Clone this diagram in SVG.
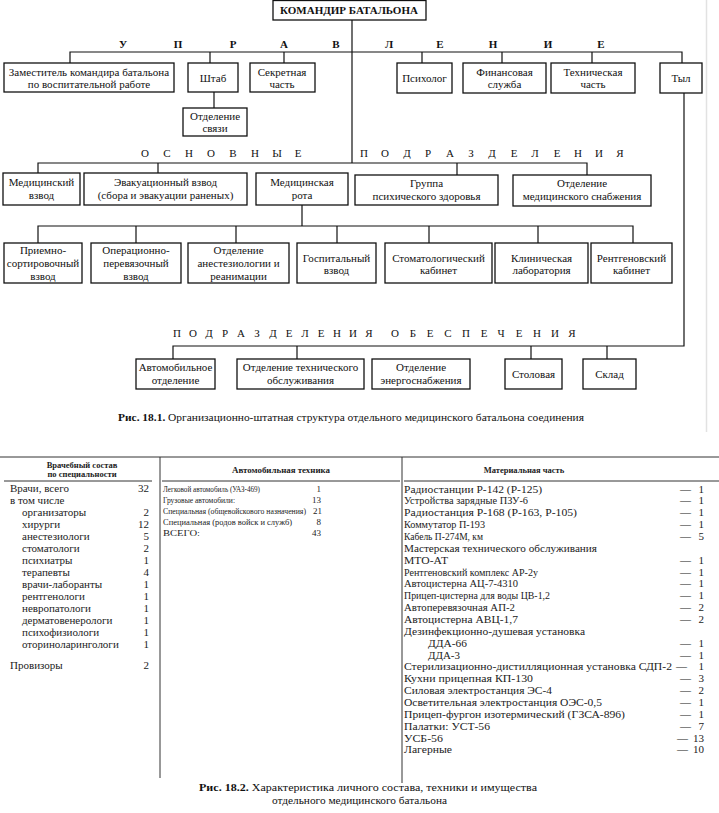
<svg xmlns="http://www.w3.org/2000/svg" width="719" height="813" viewBox="0 0 719 813">
<style>
.bg{fill:#fff}
.box{fill:#fff;stroke:#111;stroke-width:1.3}
.ln{stroke:#111;stroke-width:1.2;fill:none}
.tl{stroke:#333;stroke-width:1;fill:none}
.t{font-family:"Liberation Serif","Times New Roman",serif;font-size:11px;fill:#111;text-anchor:middle}
.b{font-weight:bold}
.sp{font-family:"Liberation Serif","Times New Roman",serif;font-size:11px;fill:#111;text-anchor:middle}
.cap{font-family:"Liberation Serif","Times New Roman",serif;font-size:10.5px;fill:#111}
.c1{font-family:"Liberation Serif","Times New Roman",serif;font-size:11px;fill:#222}
.c2{font-family:"Liberation Serif","Times New Roman",serif;font-size:9px;fill:#222}
.c3{font-family:"Liberation Serif","Times New Roman",serif;font-size:11px;fill:#222}
.hd{font-family:"Liberation Serif","Times New Roman",serif;font-size:8.5px;font-weight:bold;fill:#222;text-anchor:middle}
.r{text-anchor:end}
</style>
<rect class="bg" x="0" y="0" width="719" height="813"/>
<line x1="706.5" y1="0" x2="706.5" y2="432" stroke="#e2e2e2" stroke-width="1.5"/>

<!-- section labels -->
<g id="labels">
<text class="sp b" x="123 178 233 284 336 389 440 493 548 601" y="48">УПРАВЛЕНИЕ</text>
<text class="sp" x="145 167 189 211 233 255 277 298" y="157">ОСНОВНЫЕ</text>
<text class="sp" x="364 385 407 428 450 471 492 514 535 557 578 599 620" y="157">ПОДРАЗДЕЛЕНИЯ</text>
<text class="sp" x="177 193 209 225 241 257 273 289 305 321 337 353 369" y="337">ПОДРАЗДЕЛЕНИЯ</text>
<text class="sp" x="395 413 430 448 466 484 501 519 537 555 572" y="337">ОБЕСПЕЧЕНИЯ</text>
</g>

<!-- connectors -->
<g id="connectors">
<path class="ln" d="M352,20 V163"/>
<path class="ln" d="M70,63 V52 H682 V63"/>
<path class="ln" d="M210,52 V63 M284,52 V63 M422,52 V63 M502,52 V63 M592,52 V63"/>
<path class="ln" d="M214,92 V108"/>
<path class="ln" d="M38,173 V163 H587 V175 M158,163 V173 M457,163 V175"/>
<path class="ln" d="M302,205 V226 M38,243 V226 H633 V243 M136,226 V243 M236,226 V243 M337,226 V243 M429,226 V243 M538,226 V243"/>
<path class="ln" d="M684,93 V346 H173 V359 M297,346 V359 M531,346 V359 M607,346 V359"/>
</g>

<g id="n-commander"><rect class="box" x="273" y="0.5" width="153" height="19.5"/><text class="t b" x="349" y="14">КОМАНДИР БАТАЛЬОНА</text></g>

<g id="n-zam"><rect class="box" x="4" y="63" width="170" height="29"/><text class="t" x="89" y="75.5">Заместитель командира батальона</text><text class="t" x="89" y="87.5">по воспитательной работе</text></g>
<g id="n-shtab"><rect class="box" x="188" y="63" width="50" height="29"/><text class="t" x="213" y="82">Штаб</text></g>
<g id="n-sekret"><rect class="box" x="250" y="63" width="65" height="29"/><text class="t" x="282" y="75.5">Секретная</text><text class="t" x="282" y="87.5">часть</text></g>
<g id="n-svyaz"><rect class="box" x="183" y="108" width="64" height="28"/><text class="t" x="215" y="120">Отделение</text><text class="t" x="215" y="132">связи</text></g>
<g id="n-psiholog"><rect class="box" x="397" y="63" width="55" height="30"/><text class="t" x="424.5" y="82">Психолог</text></g>
<g id="n-fin"><rect class="box" x="463" y="63" width="83" height="30"/><text class="t" x="504.5" y="75.5">Финансовая</text><text class="t" x="504.5" y="88">служба</text></g>
<g id="n-tech"><rect class="box" x="551" y="63" width="84" height="30"/><text class="t" x="593" y="75.5">Техническая</text><text class="t" x="593" y="88">часть</text></g>
<g id="n-tyl"><rect class="box" x="660" y="63" width="42" height="30"/><text class="t" x="681" y="82">Тыл</text></g>

<g id="n-medvzvod"><rect class="box" x="3" y="173" width="77" height="32"/><text class="t" x="41.5" y="186">Медицинский</text><text class="t" x="41.5" y="199">взвод</text></g>
<g id="n-evak"><rect class="box" x="84" y="173" width="163" height="32"/><text class="t" x="165.5" y="186">Эвакуационный взвод</text><text class="t" x="165.5" y="199">(сбора и эвакуации раненых)</text></g>
<g id="n-medrota"><rect class="box" x="256" y="173" width="92" height="32"/><text class="t" x="302" y="186">Медицинская</text><text class="t" x="302" y="199">рота</text></g>
<g id="n-gruppa"><rect class="box" x="355" y="175" width="143" height="30"/><text class="t" x="426.5" y="187">Группа</text><text class="t" x="426.5" y="199.5">психического здоровья</text></g>
<g id="n-snab"><rect class="box" x="513" y="175" width="138" height="31"/><text class="t" x="582" y="187">Отделение</text><text class="t" x="582" y="200">медицинского снабжения</text></g>

<g id="n-priem"><rect class="box" x="4" y="243" width="78" height="40"/><text class="t" x="43" y="254">Приемно-</text><text class="t" x="43" y="267">сортировочный</text><text class="t" x="43" y="280">взвод</text></g>
<g id="n-oper"><rect class="box" x="91" y="243" width="90" height="40"/><text class="t" x="136" y="254">Операционно-</text><text class="t" x="136" y="267">перевязочный</text><text class="t" x="136" y="280">взвод</text></g>
<g id="n-anest"><rect class="box" x="188" y="243" width="101" height="40"/><text class="t" x="238.5" y="254">Отделение</text><text class="t" x="238.5" y="267">анестезиологии и</text><text class="t" x="238.5" y="280">реанимации</text></g>
<g id="n-gosp"><rect class="box" x="297" y="243" width="79" height="40"/><text class="t" x="336.5" y="262">Госпитальный</text><text class="t" x="336.5" y="274">взвод</text></g>
<g id="n-stom"><rect class="box" x="385" y="243" width="107" height="40"/><text class="t" x="438.5" y="262">Стоматологический</text><text class="t" x="438.5" y="274">кабинет</text></g>
<g id="n-klin"><rect class="box" x="495" y="243" width="93" height="40"/><text class="t" x="541.5" y="262">Клиническая</text><text class="t" x="541.5" y="274">лаборатория</text></g>
<g id="n-rentg"><rect class="box" x="591" y="243" width="81" height="40"/><text class="t" x="631.5" y="262">Рентгеновский</text><text class="t" x="631.5" y="274">кабинет</text></g>

<g id="n-avto"><rect class="box" x="136" y="359" width="79" height="30"/><text class="t" x="175.5" y="371">Автомобильное</text><text class="t" x="175.5" y="384">отделение</text></g>
<g id="n-tehobs"><rect class="box" x="237" y="359" width="127" height="30"/><text class="t" x="300.5" y="371">Отделение технического</text><text class="t" x="300.5" y="384">обслуживания</text></g>
<g id="n-energ"><rect class="box" x="372" y="359" width="98" height="30"/><text class="t" x="421" y="371">Отделение</text><text class="t" x="421" y="384">энергоснабжения</text></g>
<g id="n-stol"><rect class="box" x="505" y="359" width="57" height="30"/><text class="t" x="533.5" y="378">Столовая</text></g>
<g id="n-sklad"><rect class="box" x="583" y="359" width="53" height="30"/><text class="t" x="609.5" y="378">Склад</text></g>

<text class="cap" x="118" y="421" textLength="466" lengthAdjust="spacingAndGlyphs"><tspan font-weight="bold">Рис. 18.1.</tspan> Организационно-штатная структура отдельного медицинского батальона соединения</text>

<!-- table fig 18.2 -->
<g id="table">
<line class="tl" x1="0" y1="457" x2="719" y2="457"/>
<line class="tl" x1="4" y1="481" x2="152" y2="481"/>
<line class="tl" x1="162" y1="481" x2="400" y2="481"/>
<line class="tl" x1="404" y1="481" x2="719" y2="481"/>
<line class="tl" x1="160" y1="457" x2="160" y2="778"/>
<line class="tl" x1="402" y1="457" x2="402" y2="783"/>

<text class="hd" x="82" y="468">Врачебный состав</text>
<text class="hd" x="82" y="477">по специальности</text>
<text class="hd" x="281" y="473" textLength="98" lengthAdjust="spacingAndGlyphs">Автомобильная техника</text>
<text class="hd" x="524" y="473">Материальная часть</text>

<g class="c1">
<text x="10" y="491.5">Врачи, всего</text><text class="r" x="149" y="491.5">32</text>
<text x="10" y="503.5">в том числе</text>
<text x="22" y="515.5">организаторы</text><text class="r" x="149" y="515.5">2</text>
<text x="22" y="527.5">хирурги</text><text class="r" x="149" y="527.5">12</text>
<text x="22" y="539.5">анестезиологи</text><text class="r" x="149" y="539.5">5</text>
<text x="22" y="551.5">стоматологи</text><text class="r" x="149" y="551.5">2</text>
<text x="22" y="563.5">психиатры</text><text class="r" x="149" y="563.5">1</text>
<text x="22" y="575.5">терапевты</text><text class="r" x="149" y="575.5">4</text>
<text x="22" y="587.5">врачи-лаборанты</text><text class="r" x="149" y="587.5">1</text>
<text x="22" y="599.5">рентгенологи</text><text class="r" x="149" y="599.5">1</text>
<text x="22" y="611.5">невропатологи</text><text class="r" x="149" y="611.5">1</text>
<text x="22" y="623.5">дерматовенерологи</text><text class="r" x="149" y="623.5">1</text>
<text x="22" y="635.5">психофизиологи</text><text class="r" x="149" y="635.5">1</text>
<text x="22" y="647.5">оториноларингологи</text><text class="r" x="149" y="647.5">1</text>
<text x="10" y="668.5">Провизоры</text><text class="r" x="149" y="668.5">2</text>
</g>

<g class="c2">
<text x="163" y="491.5" textLength="97" lengthAdjust="spacingAndGlyphs">Легковой автомобиль (УАЗ-469)</text><text class="r" x="321" y="491.5">1</text>
<text x="163" y="502.7" textLength="72" lengthAdjust="spacingAndGlyphs">Грузовые автомобили:</text><text class="r" x="321" y="502.7">13</text>
<text x="163" y="513.9" font-size="8" textLength="143" lengthAdjust="spacingAndGlyphs">Специальная (общевойскового назначения)</text><text class="r" x="322" y="513.9">21</text>
<text x="163" y="525.1" textLength="129" lengthAdjust="spacingAndGlyphs">Специальная (родов войск и служб)</text><text class="r" x="321" y="525.1">8</text>
<text x="163" y="536.3" textLength="37" lengthAdjust="spacingAndGlyphs">ВСЕГО:</text><text class="r" x="321" y="536.3">43</text>
</g>

<g class="c3">
<text x="404" y="492.5" textLength="138" lengthAdjust="spacingAndGlyphs">Радиостанции Р-142 (Р-125)</text>
<text x="404" y="504.4" textLength="124" lengthAdjust="spacingAndGlyphs">Устройства зарядные ПЗУ-6</text>
<text x="404" y="516.2" textLength="173" lengthAdjust="spacingAndGlyphs">Радиостанция Р-168 (Р-163, Р-105)</text>
<text x="404" y="528.1" textLength="81" lengthAdjust="spacingAndGlyphs">Коммутатор П-193</text>
<text x="404" y="539.9" textLength="79" lengthAdjust="spacingAndGlyphs">Кабель П-274М, км</text>
<text x="404" y="551.8" textLength="193" lengthAdjust="spacingAndGlyphs">Мастерская технического обслуживания</text>
<text x="404" y="563.7" textLength="44" lengthAdjust="spacingAndGlyphs">МТО-АТ</text>
<text x="404" y="575.5" textLength="134" lengthAdjust="spacingAndGlyphs">Рентгеновский комплекс АР-2у</text>
<text x="404" y="587.4" textLength="114" lengthAdjust="spacingAndGlyphs">Автоцистерна АЦ-7-4310</text>
<text x="404" y="599.2" textLength="146" lengthAdjust="spacingAndGlyphs">Прицеп-цистерна для воды ЦВ-1,2</text>
<text x="404" y="611.1" textLength="111" lengthAdjust="spacingAndGlyphs">Автоперевязочная АП-2</text>
<text x="404" y="623" textLength="114" lengthAdjust="spacingAndGlyphs">Автоцистерна АВЦ-1,7</text>
<text x="404" y="634.8" textLength="181" lengthAdjust="spacingAndGlyphs">Дезинфекционно-душевая установка</text>
<text x="428" y="646.7" textLength="39" lengthAdjust="spacingAndGlyphs">ДДА-66</text>
<text x="428" y="658.5" textLength="32" lengthAdjust="spacingAndGlyphs">ДДА-3</text>
<text x="404" y="670.4" textLength="268" lengthAdjust="spacingAndGlyphs">Стерилизационно-дистилляционная установка СДП-2</text>
<text x="404" y="682.3" textLength="129" lengthAdjust="spacingAndGlyphs">Кухни прицепная КП-130</text>
<text x="404" y="694.1" textLength="148" lengthAdjust="spacingAndGlyphs">Силовая электростанция ЭС-4</text>
<text x="404" y="706" textLength="198" lengthAdjust="spacingAndGlyphs">Осветительная электростанция ОЭС-0,5</text>
<text x="404" y="717.8" textLength="221" lengthAdjust="spacingAndGlyphs">Прицеп-фургон изотермический (ГЗСА-896)</text>
<text x="404" y="729.7" textLength="86" lengthAdjust="spacingAndGlyphs">Палатки: УСТ-56</text>
<text x="404" y="741.5" textLength="39" lengthAdjust="spacingAndGlyphs">УСБ-56</text>
<text x="404" y="753.4" textLength="48" lengthAdjust="spacingAndGlyphs">Лагерные</text>
<text x="680" y="492.5">— </text><text class="r" x="704" y="492.5">1</text>
<text x="680" y="504.4">— </text><text class="r" x="704" y="504.4">1</text>
<text x="680" y="516.2">— </text><text class="r" x="704" y="516.2">1</text>
<text x="680" y="528.1">— </text><text class="r" x="704" y="528.1">1</text>
<text x="680" y="539.9">— </text><text class="r" x="704" y="539.9">5</text>
<text x="680" y="563.7">— </text><text class="r" x="704" y="563.7">1</text>
<text x="680" y="575.5">— </text><text class="r" x="704" y="575.5">1</text>
<text x="680" y="587.4">— </text><text class="r" x="704" y="587.4">1</text>
<text x="680" y="599.2">— </text><text class="r" x="704" y="599.2">1</text>
<text x="680" y="611.1">— </text><text class="r" x="704" y="611.1">2</text>
<text x="680" y="623">— </text><text class="r" x="704" y="623">2</text>
<text x="680" y="646.7">— </text><text class="r" x="704" y="646.7">1</text>
<text x="680" y="658.5">— </text><text class="r" x="704" y="658.5">1</text>
<text x="676" y="670.4">— </text><text class="r" x="704" y="670.4">1</text>
<text x="680" y="682.3">— </text><text class="r" x="704" y="682.3">3</text>
<text x="680" y="694.1">— </text><text class="r" x="704" y="694.1">2</text>
<text x="680" y="706">— </text><text class="r" x="704" y="706">1</text>
<text x="680" y="717.8">— </text><text class="r" x="704" y="717.8">1</text>
<text x="680" y="729.7">— </text><text class="r" x="704" y="729.7">7</text>
<text x="677" y="741.5">— </text><text class="r" x="704" y="741.5">13</text>
<text x="677" y="753.4">— </text><text class="r" x="704" y="753.4">10</text>
</g>
</g>

<text class="cap" x="199" y="791" textLength="338" lengthAdjust="spacingAndGlyphs"><tspan font-weight="bold">Рис. 18.2.</tspan> Характеристика личного состава, техники и имущества</text>
<text class="cap" x="272" y="804" textLength="175" lengthAdjust="spacingAndGlyphs">отдельного медицинского батальона</text>
</svg>
